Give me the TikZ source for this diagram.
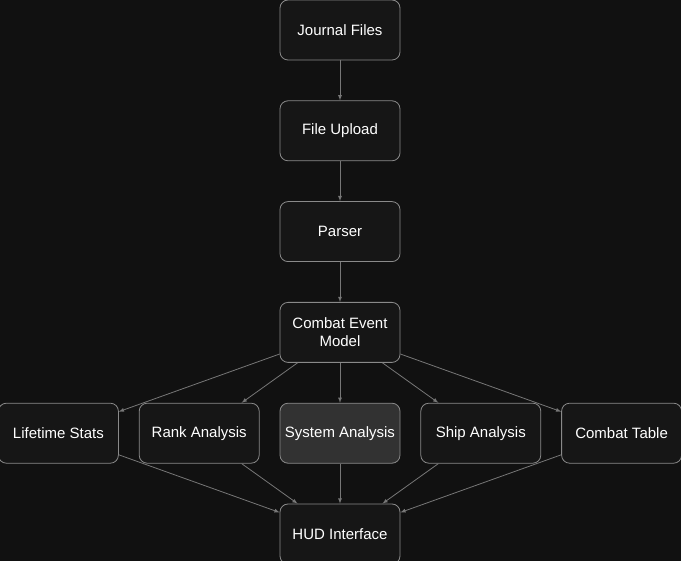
\documentclass[tikz,border=0pt]{standalone}
\usepackage{fontspec}
\setmainfont{Liberation Sans}
\usetikzlibrary{positioning}
\definecolor{bgcolor}{HTML}{111111}
\definecolor{boxfill}{HTML}{161616}
\definecolor{boxdraw}{HTML}{8A8A8A}
\definecolor{linkcolor}{HTML}{777777}
\tikzset{
	% boxes
	box/.style={
		shape=rectangle,
		draw=boxdraw,
		line width=0.8pt,
		fill=boxfill,
		rounded corners=8pt,
		minimum height=60pt,
		minimum width=120pt,
		text=white,
		font=\fontsize{15}{18}\selectfont,
		align=center,
		inner sep=2pt,
	},
	% connections
	link/.style={
		draw=linkcolor,
		line width=0.8pt,
		-latex,
	}
}
\begin{document}
\begin{tikzpicture}[x=1pt,y=1pt]
	\fill[bgcolor] (0,0) rectangle (681,-561);
	\useasboundingbox (0,0) rectangle (681,-561);
	% Pipeline
	\node[box] (journal) at (340,-30) {Journal Files};
	\node[box, below=40pt of journal] (upload) {File Upload};
	\node[box, below=40pt of upload] (parser) {Parser};
	\node[box, below=40pt of parser] (model) {Combat Event\\Model};
	% Analyses
	\node[box, below=40pt of model, fill=boxfill!80!white!60!boxfill] (system) {System Analysis};
	\node[box, left=20pt of system] (rank) {Rank Analysis};
	\node[box, left=20pt of rank] (lifetime) {Lifetime Stats};
	\node[box, right=20pt of system] (ship) {Ship Analysis};
	\node[box, right=20pt of ship] (table) {Combat Table};
	\node[box, below=40pt of system] (hud) {HUD Interface};
	% Connections
	\draw[link] (journal) -- (upload);
	\draw[link] (upload) -- (parser);
	\draw[link] (parser) -- (model);
	\foreach \n in {lifetime,rank,system,ship,table} {
		\draw[link] (model) -- (\n);
		\draw[link] (\n) -- (hud);
	}
\end{tikzpicture}
\end{document}
